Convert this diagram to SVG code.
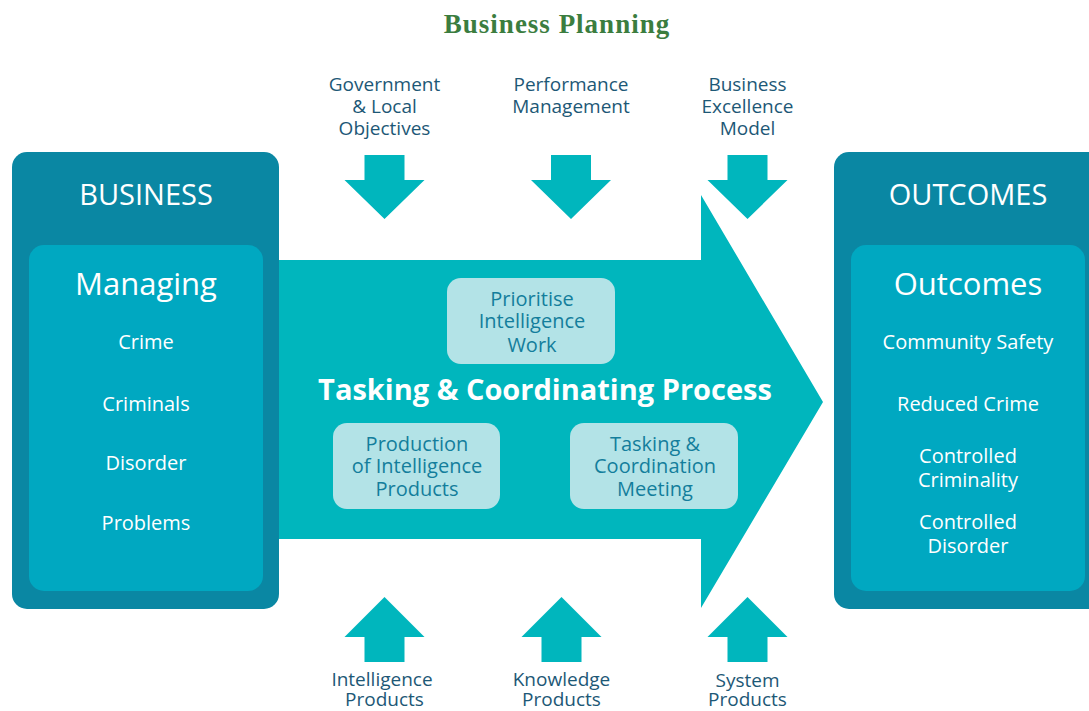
<svg xmlns="http://www.w3.org/2000/svg" width="1089" height="711" viewBox="0 0 1089 711">
<defs>
<style>
text{font-family:"Open Sans","Noto Sans","Liberation Sans",sans-serif;text-anchor:middle}
.title{font-family:"Liberation Serif","DejaVu Serif",serif;font-weight:bold;font-size:27px;fill:#3b7d3f;letter-spacing:1px}
.lbl{font-size:19px;fill:#1d5876}
.outer{fill:#0a87a3}
.inner{fill:#00a8c1}
.flow{fill:#00b6bd}
.head{font-size:29px;fill:#fff}
.sub{font-size:31px;fill:#fff}
.item{font-size:20px;fill:#fff}
.pbox{fill:#b3e3e7}
.ptxt{font-size:20px;fill:#137e9c}
.main{font-size:29px;font-weight:bold;fill:#fff}
</style>
</defs>
<rect width="1089" height="711" fill="#fff"/>
<text class="title" x="557" y="33">Business Planning</text>

<g id="connectors">
<path id="big-arrow" class="flow" d="M270 260H701V195L823 402L701 608V539H270Z"/>
<path class="flow" d="M364.5 155H404.5V180H424.5L384.5 219L344.5 180H364.5Z"/>
<path class="flow" d="M551 155H591V180H611L571 219L531 180H551Z"/>
<path class="flow" d="M727.5 155H767.5V180H787.5L747.5 219L707.5 180H727.5Z"/>
<path class="flow" d="M364.5 662H404.5V637H424.5L384.5 597L344.5 637H364.5Z"/>
<path class="flow" d="M541.5 662H581.5V637H601.5L561.5 597L521.5 637H541.5Z"/>
<path class="flow" d="M727.5 662H767.5V637H787.5L747.5 597L707.5 637H727.5Z"/>
</g>

<g id="top-labels">
<text class="lbl" x="384.5" y="91">Government</text>
<text class="lbl" x="384.5" y="113">&amp; Local</text>
<text class="lbl" x="384.5" y="135">Objectives</text>
<text class="lbl" x="571" y="91">Performance</text>
<text class="lbl" x="571" y="113">Management</text>
<text class="lbl" x="747.5" y="91">Business</text>
<text class="lbl" x="747.5" y="113">Excellence</text>
<text class="lbl" x="747.5" y="135">Model</text>
</g>

<g id="bottom-labels">
<text class="lbl" x="382" y="686">Intelligence</text>
<text class="lbl" x="384.5" y="706">Products</text>
<text class="lbl" x="561.5" y="686">Knowledge</text>
<text class="lbl" x="561.5" y="706">Products</text>
<text class="lbl" x="747.5" y="687">System</text>
<text class="lbl" x="747.5" y="706">Products</text>
</g>

<g id="business">
<rect class="outer" x="12" y="152" width="267" height="457" rx="15"/>
<rect class="inner" x="29" y="245" width="234" height="346" rx="15"/>
<text class="head" x="146" y="205">BUSINESS</text>
<text class="sub" x="146" y="295">Managing</text>
<text class="item" x="146" y="349">Crime</text>
<text class="item" x="146" y="411">Criminals</text>
<text class="item" x="146" y="470">Disorder</text>
<text class="item" x="146" y="530">Problems</text>
</g>

<g id="process">
<text class="main" x="545" y="400">Tasking &amp; Coordinating Process</text>
</g>

<g id="prioritise">
<rect class="pbox" x="447" y="278" width="168" height="86" rx="14"/>
<text class="ptxt" x="532" y="306">Prioritise</text>
<text class="ptxt" x="532" y="328">Intelligence</text>
<text class="ptxt" x="532" y="352">Work</text>
</g>

<g id="production">
<rect class="pbox" x="333" y="423" width="167" height="86" rx="14"/>
<text class="ptxt" x="417" y="451">Production</text>
<text class="ptxt" x="417" y="473">of Intelligence</text>
<text class="ptxt" x="417" y="496">Products</text>
</g>

<g id="meeting">
<rect class="pbox" x="570" y="423" width="168" height="86" rx="14"/>
<text class="ptxt" x="655" y="451">Tasking &amp;</text>
<text class="ptxt" x="655" y="473">Coordination</text>
<text class="ptxt" x="655" y="496">Meeting</text>
</g>

<g id="outcomes">
<rect class="outer" x="834" y="152" width="280" height="457" rx="15"/>
<rect class="inner" x="851" y="245" width="234" height="346" rx="15"/>
<text class="head" x="968" y="205">OUTCOMES</text>
<text class="sub" x="968" y="295">Outcomes</text>
<text class="item" x="968" y="349">Community Safety</text>
<text class="item" x="968" y="411">Reduced Crime</text>
<text class="item" x="968" y="463">Controlled</text>
<text class="item" x="968" y="487">Criminality</text>
<text class="item" x="968" y="529">Controlled</text>
<text class="item" x="968" y="553">Disorder</text>
</g>
</svg>
